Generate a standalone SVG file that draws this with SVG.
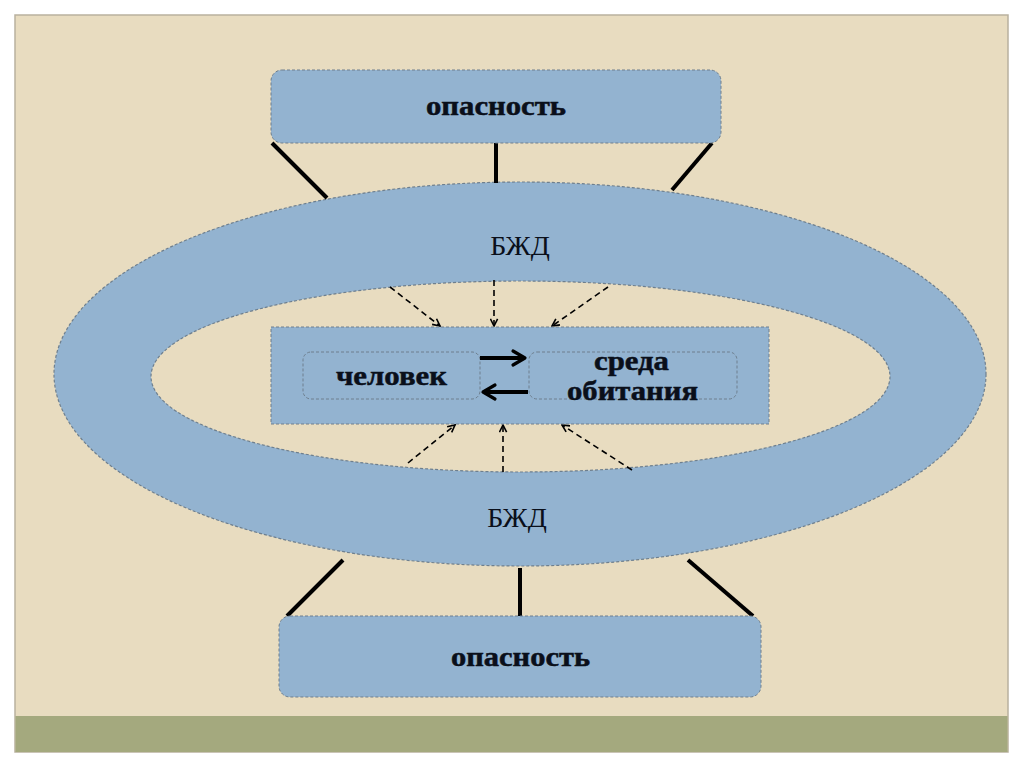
<svg xmlns="http://www.w3.org/2000/svg" width="1024" height="767" viewBox="0 0 1024 767">
<defs>
<style>
.box{fill:#93B3D0;stroke:#6E7F8E;stroke-width:1;stroke-dasharray:3 2}
.ring{stroke:#6E7F8E;stroke-width:1.2;stroke-dasharray:3 2}
.link{stroke:#000;stroke-width:4;stroke-linecap:butt}
.dash{stroke:#000;stroke-width:1.6;stroke-dasharray:6 4;fill:none;marker-end:url(#openHead)}
.bold{stroke:#000;stroke-width:4;fill:none;marker-end:url(#boldHead)}
.lbl{font-family:"Liberation Serif","Times New Roman",serif;font-weight:bold;font-size:27px;fill:#0A0F1A;stroke:#0A0F1A;stroke-width:0.5;text-anchor:middle}
.bzd{font-family:"Liberation Serif","Times New Roman",serif;font-size:28px;fill:#0A0F1A;text-anchor:middle}
</style>
<marker id="openHead" viewBox="0 0 10 10" refX="9" refY="5" markerWidth="9" markerHeight="9" markerUnits="userSpaceOnUse" orient="auto">
<path d="M1,1 L9,5 L1,9" fill="none" stroke="#000" stroke-width="1.8"/>
</marker>
<marker id="boldHead" viewBox="0 0 10 10" refX="8" refY="5" markerWidth="5" markerHeight="5" orient="auto">
<path d="M2,1.5 L8,5 L2,8.5" fill="none" stroke="#000" stroke-width="1.6" stroke-linecap="round" stroke-linejoin="round"/>
</marker>
</defs>
<rect x="0" y="0" width="1024" height="767" fill="#FFFFFF"/>
<rect x="15" y="15" width="993" height="737" fill="#E8DCC0" stroke="#B9B19F" stroke-width="1.5"/>
<rect x="15.5" y="716" width="992" height="36" fill="#A4A97E"/>

<g id="ring">
<ellipse class="ring" cx="520" cy="374" rx="466" ry="192" fill="#93B3D0"/>
<ellipse class="ring" cx="520.5" cy="376.5" rx="369.5" ry="95.5" fill="#E8DCC0"/>
<text class="bzd" x="520" y="255">БЖД</text>
<text class="bzd" x="517" y="527">БЖД</text>
</g>

<g id="connectors">
<line class="link" x1="272" y1="143" x2="327" y2="198"/>
<line class="link" x1="496" y1="143" x2="496" y2="183"/>
<line class="link" x1="712" y1="143" x2="672" y2="190"/>
<line class="link" x1="343" y1="560" x2="287" y2="616"/>
<line class="link" x1="520" y1="568" x2="520" y2="616"/>
<line class="link" x1="688" y1="560" x2="753" y2="616"/>
<line class="dash" x1="390" y1="287" x2="440" y2="326"/>
<line class="dash" x1="494" y1="280" x2="494" y2="326"/>
<line class="dash" x1="608" y1="287" x2="552" y2="326"/>
<line class="dash" x1="408" y1="463" x2="455" y2="425"/>
<line class="dash" x1="503" y1="472" x2="503" y2="425"/>
<line class="dash" x1="632" y1="470" x2="562" y2="425"/>
</g>

<g id="top-danger">
<rect class="box" x="271" y="70" width="450" height="73" rx="11"/>
<text class="lbl" x="496" y="115" textLength="140" lengthAdjust="spacingAndGlyphs">опасность</text>
</g>

<g id="bottom-danger">
<rect class="box" x="279" y="616" width="482" height="81" rx="11"/>
<text class="lbl" x="520.5" y="666" textLength="139" lengthAdjust="spacingAndGlyphs">опасность</text>
</g>

<g id="system">
<rect class="box" x="271" y="327" width="498" height="97" rx="0"/>
</g>

<g id="human">
<rect class="box" x="303" y="352" width="177" height="47" rx="8"/>
<text class="lbl" x="391.5" y="385" textLength="111" lengthAdjust="spacingAndGlyphs">человек</text>
</g>

<g id="environment">
<rect class="box" x="529" y="352" width="208" height="47" rx="8"/>
<text class="lbl" x="631.5" y="370" textLength="75" lengthAdjust="spacingAndGlyphs">среда</text>
<text class="lbl" x="632.5" y="400" textLength="131" lengthAdjust="spacingAndGlyphs">обитания</text>
</g>

<g id="interaction">
<line class="bold" x1="480" y1="358" x2="525" y2="358"/>
<line class="bold" x1="528" y1="392" x2="483" y2="392"/>
</g>
</svg>
